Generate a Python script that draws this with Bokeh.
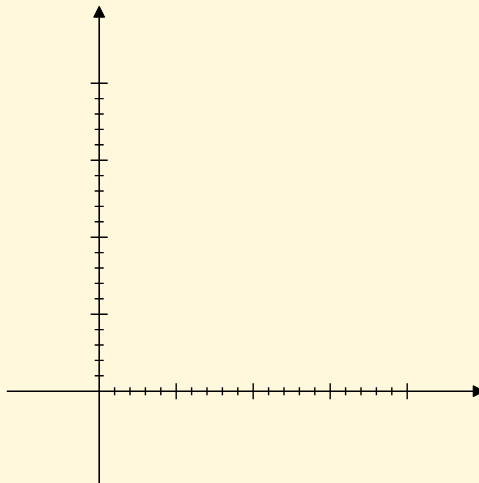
from bokeh.plotting import figure
from bokeh.models import Range1d, Arrow, NormalHead, GlobalInlineStyleSheet
from bokeh.embed import file_html
from bokeh.resources import INLINE

# ---- data ----
axis_min = -1.2
axis_max = 5.0
x_major = [1, 2, 3, 4]
x_minor = [0.2, 0.4, 0.6, 0.8, 1.2, 1.4, 1.6, 1.8, 2.2, 2.4, 2.6, 2.8,
           3.2, 3.4, 3.6, 3.8]
y_major = [1, 2, 3, 4]
y_minor = [0.2, 0.4, 0.6, 0.8, 1.2, 1.4, 1.6, 1.8, 2.2, 2.4, 2.6, 2.8,
           3.2, 3.4, 3.6, 3.8]

# ---- layout ----
W, H = 479, 483
scale = 77.0          # pixels per unit
ox, oy = 98.7, 390.7  # origin in pixels
bg = "cornsilk"

p = figure(width=W, height=H, output_backend="svg", toolbar_location=None,
           x_range=Range1d(-ox / scale, (W - ox) / scale),
           y_range=Range1d(-(H - oy) / scale, oy / scale),
           min_border=0, outline_line_color=None,
           background_fill_color=bg, border_fill_color=bg)
p.axis.visible = False
p.grid.visible = False
p.stylesheets = [GlobalInlineStyleSheet(css="html, body { margin: 0; padding: 0; background: cornsilk; overflow: hidden; }")]

# axes with arrows
p.add_layout(Arrow(end=NormalHead(size=11, fill_color="black", line_color="black"),
                   x_start=axis_min, y_start=0, x_end=axis_max, y_end=0,
                   line_color="black", line_width=1.6))
p.add_layout(Arrow(end=NormalHead(size=11, fill_color="black", line_color="black"),
                   x_start=0, y_start=axis_min, x_end=0, y_end=axis_max,
                   line_color="black", line_width=1.6))

# ticks
p.scatter(x=x_minor, y=[0] * len(x_minor), marker="dash", angle=1.5708,
          size=8, line_color="black", line_width=1.4)
p.scatter(x=x_major, y=[0] * len(x_major), marker="dash", angle=1.5708,
          size=16, line_color="black", line_width=1.4)
p.scatter(x=[0] * len(y_minor), y=y_minor, marker="dash",
          size=9, line_color="black", line_width=1.4)
p.scatter(x=[0] * len(y_major), y=y_major, marker="dash",
          size=17, line_color="black", line_width=1.4)

open("out.html", "w").write(file_html(p, INLINE))
